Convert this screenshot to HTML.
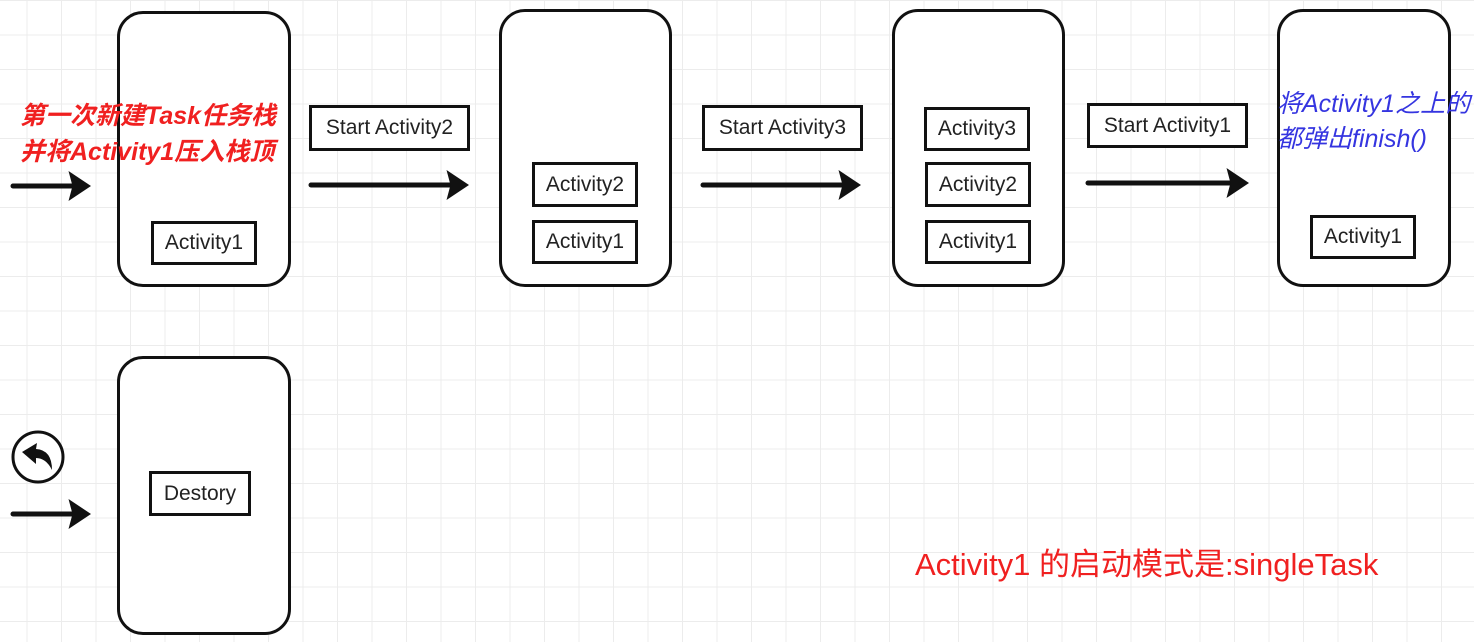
<!DOCTYPE html>
<html><head><meta charset="utf-8"><style>
body{margin:0;width:1474px;height:642px;overflow:hidden;background:#fff;
background-image:linear-gradient(#ececec 1px,transparent 1px),linear-gradient(90deg,#ececec 1px,transparent 1px);
background-size:34.5px 34.5px;background-position:-8px 0;font-family:"Liberation Sans","Noto Sans CJK SC",sans-serif;position:relative}
.ph{position:absolute;border:3px solid #111;border-radius:26px;background:#fff;box-sizing:border-box}
.bx{position:absolute;border:3px solid #111;background:#fff;box-sizing:border-box;font-size:21px;color:#222;display:flex;align-items:center;justify-content:center}
.t{position:absolute;white-space:nowrap}
</style></head><body>
<div class="ph" style="left:117px;top:11px;width:174px;height:276px"></div>
<div class="ph" style="left:499px;top:9px;width:173px;height:278px"></div>
<div class="ph" style="left:892px;top:9px;width:173px;height:278px"></div>
<div class="ph" style="left:1277px;top:9px;width:174px;height:278px"></div>
<div class="ph" style="left:117px;top:356px;width:174px;height:279px"></div>

<div class="bx" style="left:151px;top:221px;width:106px;height:44px">Activity1</div>
<div class="bx" style="left:532px;top:162px;width:106px;height:45px">Activity2</div>
<div class="bx" style="left:532px;top:220px;width:106px;height:44px">Activity1</div>
<div class="bx" style="left:924px;top:107px;width:106px;height:44px">Activity3</div>
<div class="bx" style="left:925px;top:162px;width:106px;height:45px">Activity2</div>
<div class="bx" style="left:925px;top:220px;width:106px;height:44px">Activity1</div>
<div class="bx" style="left:1310px;top:215px;width:106px;height:44px">Activity1</div>
<div class="bx" style="left:149px;top:471px;width:102px;height:45px">Destory</div>

<div class="bx" style="left:309px;top:105px;width:161px;height:46px">Start Activity2</div>
<div class="bx" style="left:702px;top:105px;width:161px;height:46px">Start Activity3</div>
<div class="bx" style="left:1087px;top:103px;width:161px;height:45px">Start Activity1</div>

<svg width="1474" height="642" style="position:absolute;left:0;top:0">
<defs><marker id="a" markerWidth="6" markerHeight="6" refX="3.5" refY="3" orient="auto" markerUnits="strokeWidth"><path d="M0,0 L4.5,3 L0,6 L0.8,3z" fill="#111"/></marker></defs>
<g stroke="#111" stroke-width="5" stroke-linecap="round" fill="none">
<line x1="13" y1="186" x2="86" y2="186" marker-end="url(#a)"/>
<line x1="311" y1="185" x2="464" y2="185" marker-end="url(#a)"/>
<line x1="703" y1="185" x2="856" y2="185" marker-end="url(#a)"/>
<line x1="1088" y1="183" x2="1244" y2="183" marker-end="url(#a)"/>
<line x1="13" y1="514" x2="86" y2="514" marker-end="url(#a)"/>
</g>
<circle cx="38" cy="457" r="25" fill="#fff" stroke="#111" stroke-width="3"/>
<path d="M22,452 L37,443 L36,449 Q52,450 52,470 Q46,458 36,458 L36,464z" fill="#111"/>
</svg>

<div class="t" style="left:20px;top:98px;color:#f02020;font-size:25px;font-style:italic;font-weight:bold;line-height:36px">第一次新建Task任务栈<br>并将Activity1压入栈顶</div>
<div class="t" style="left:1277px;top:87px;color:#3535e0;font-size:25px;font-style:italic;line-height:35px">将Activity1之上的<br>都弹出finish()</div>
<div class="t" style="left:915px;top:539px;color:#f02020;font-size:31px">Activity1 的启动模式是:singleTask</div>
</body></html>
